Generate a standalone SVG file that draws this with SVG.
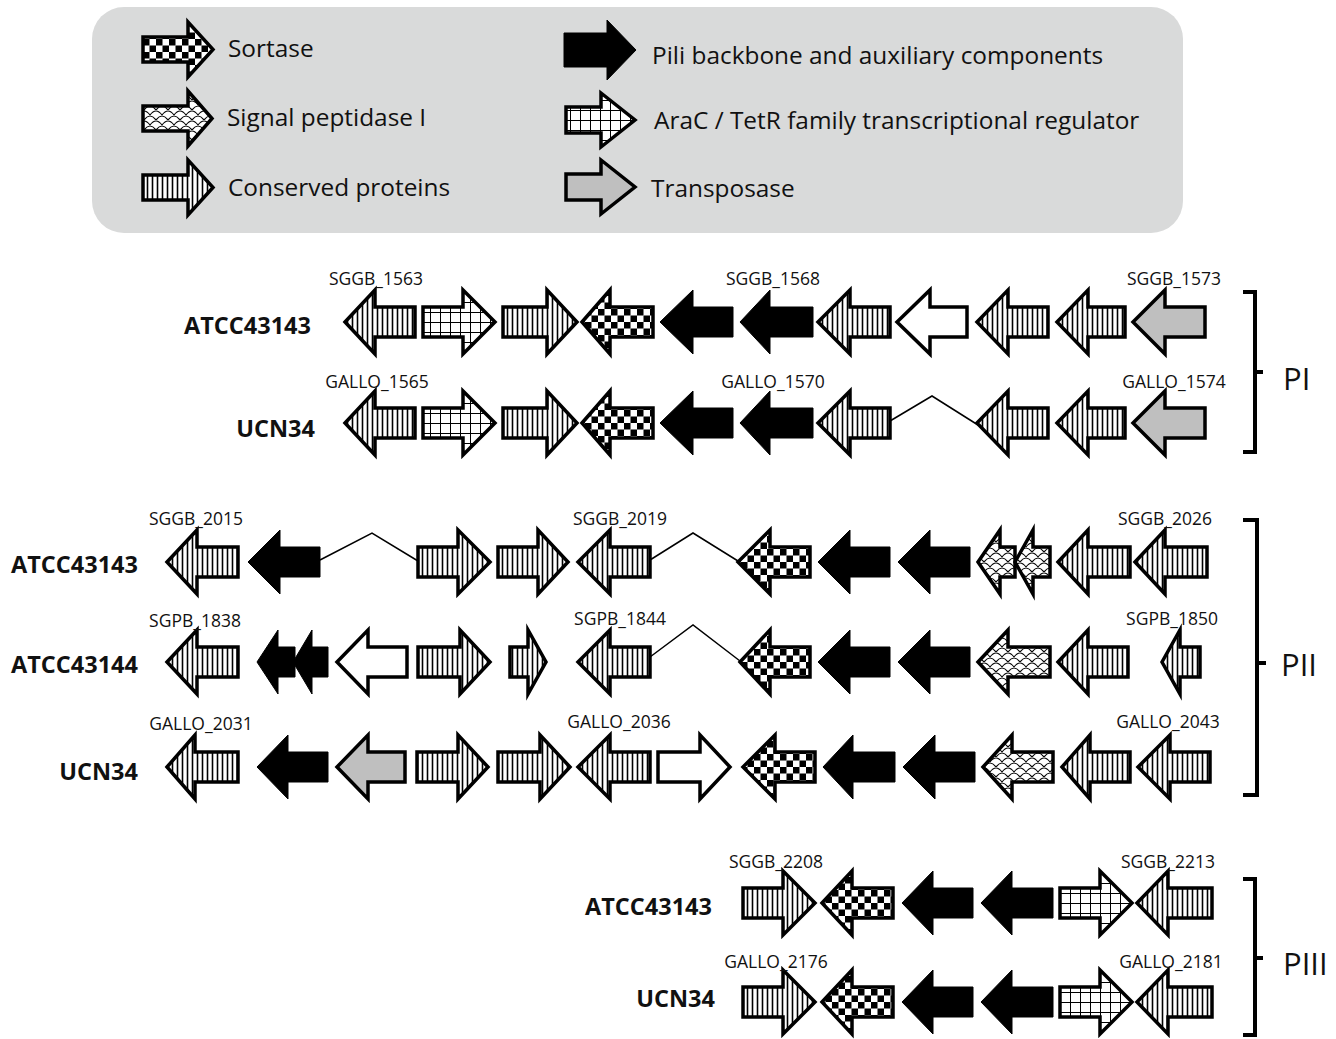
<svg xmlns="http://www.w3.org/2000/svg" width="1336" height="1039" viewBox="0 0 1336 1039">
<style>
.a{stroke:#000;stroke-width:3.5;stroke-linejoin:miter}
.st{fill:url(#stripes)}
.gr{fill:url(#grid)}
.ck{fill:url(#checker)}
.sp{fill:url(#sig)}
.bk{fill:#000;stroke-width:1}
.wh{fill:#fff}
.gy{fill:#bfbfbf}
.gene{font-family:"Open Sans","Liberation Sans",sans-serif;font-size:17.5px;fill:#111;text-anchor:middle}
.strain{font-family:"Open Sans","Liberation Sans",sans-serif;font-size:23.5px;font-weight:bold;fill:#111;text-anchor:end}
.sec{font-family:"Open Sans","Liberation Sans",sans-serif;font-size:31px;fill:#111}
.leg{font-family:"Open Sans","Liberation Sans",sans-serif;font-size:24.4px;fill:#111}
.ln{fill:none;stroke:#000;stroke-width:1.5}
.br{fill:none;stroke:#000;stroke-width:4}
</style>
<defs>
<pattern id="stripes" width="5" height="10" patternUnits="userSpaceOnUse"><rect width="5" height="10" fill="#fff"/><line x1="2.5" y1="0" x2="2.5" y2="10" stroke="#000" stroke-width="1.6"/></pattern>
<pattern id="grid" width="10" height="10" patternUnits="userSpaceOnUse"><rect width="10" height="10" fill="#fff"/><path d="M0,0 H10 M0,0 V10" stroke="#000" stroke-width="2" fill="none"/></pattern>
<pattern id="checker" width="13" height="13" patternUnits="userSpaceOnUse"><rect width="13" height="13" fill="#fff"/><rect width="6.5" height="6.5" fill="#000"/><rect x="6.5" y="6.5" width="6.5" height="6.5" fill="#000"/></pattern>
<pattern id="sig" width="12" height="10" patternUnits="userSpaceOnUse"><rect width="12" height="10" fill="#fff"/><path d="M0,10 Q6,2 12,10 M-6,5 Q0,-3 6,5 M6,5 Q12,-3 18,5" fill="none" stroke="#000" stroke-width="1.2"/></pattern>
</defs>
<rect width="1336" height="1039" fill="#fff"/>

<g id="legend">
<rect x="92" y="7" width="1091" height="226" rx="32" fill="#d9dada"/>
<g id="leg-sortase"><polygon class="a ck" points="143,37 188,37 188,22 213,49.5 188,77 188,62 143,62"/><text class="leg" x="228" y="57">Sortase</text></g>
<g id="leg-sigpep"><polygon class="a sp" points="143,106 188,106 188,91 212,118.5 188,146 188,131 143,131"/><text class="leg" x="227" y="126">Signal peptidase I</text></g>
<g id="leg-conserved"><polygon class="a st" points="143,175 188,175 188,160 213,187.5 188,215 188,200 143,200"/><text class="leg" x="228" y="196">Conserved proteins</text></g>
<g id="leg-pili"><polygon class="a bk" points="564,33 607,33 607,20 636,50 607,80 607,67 564,67"/><text class="leg" x="652" y="64">Pili backbone and auxiliary components</text></g>
<g id="leg-arac"><polygon class="a gr" points="566,107 601,107 601,93 635,120 601,147 601,133 566,133"/><text class="leg" x="654" y="129">AraC / TetR family transcriptional regulator</text></g>
<g id="leg-transposase"><polygon class="a gy" points="566,174 601,174 601,160 635,187 601,214 601,200 566,200"/><text class="leg" x="651" y="197">Transposase</text></g>
</g>

<g id="connectors">
<polyline class="ln" points="890,421 932,396 978,425"/>
<polyline class="ln" points="320,560 372,533 418,561"/>
<polyline class="ln" points="650,560 693,533 738,561"/>
<polyline class="ln" points="650,657 693,625 740,661"/>
</g>

<g id="brackets">
<path class="br" d="M1243,292 H1255 V452 H1243 M1255,372 H1263"/>
<path class="br" d="M1243,520 H1257 V795 H1243 M1257,663 H1266"/>
<path class="br" d="M1243,879 H1255 V1035 H1243 M1255,958 H1263"/>
<text class="sec" x="1283" y="390">PI</text>
<text class="sec" x="1281" y="676">PII</text>
<text class="sec" x="1283" y="975">PIII</text>
</g>

<g id="strains">
<text class="strain" x="311" y="334">ATCC43143</text>
<text class="strain" x="315" y="437">UCN34</text>
<text class="strain" x="138" y="573">ATCC43143</text>
<text class="strain" x="138" y="673">ATCC43144</text>
<text class="strain" x="138" y="780">UCN34</text>
<text class="strain" x="712" y="915">ATCC43143</text>
<text class="strain" x="715" y="1007">UCN34</text>
</g>

<!-- PI row 1 -->
<g transform="translate(0,322)">
<g id="pi1-1"><polygon class="a st" points="345,0 375,-32 375,-15 415,-15 415,15 375,15 375,32"/><text class="gene" x="376" y="-37">SGGB_1563</text></g>
<g id="pi1-2"><polygon class="a gr" points="423,-15 463,-15 463,-32 495,0 463,32 463,15 423,15"/></g>
<g id="pi1-3"><polygon class="a st" points="503,-15 547,-15 547,-32 577,0 547,32 547,15 503,15"/></g>
<g id="pi1-4"><polygon class="a ck" points="582,0 610,-32 610,-15 653,-15 653,15 610,15 610,32"/></g>
<g id="pi1-5"><polygon class="a bk" points="660,0 693,-32 693,-15 733,-15 733,15 693,15 693,32"/></g>
<g id="pi1-6"><polygon class="a bk" points="740,0 770,-32 770,-15 813,-15 813,15 770,15 770,32"/><text class="gene" x="773" y="-37">SGGB_1568</text></g>
<g id="pi1-7"><polygon class="a st" points="818,0 850,-32 850,-15 890,-15 890,15 850,15 850,32"/></g>
<g id="pi1-8"><polygon class="a wh" points="897,0 930,-32 930,-15 967,-15 967,15 930,15 930,32"/></g>
<g id="pi1-9"><polygon class="a st" points="977,0 1008,-32 1008,-15 1048,-15 1048,15 1008,15 1008,32"/></g>
<g id="pi1-10"><polygon class="a st" points="1057,0 1088,-32 1088,-15 1125,-15 1125,15 1088,15 1088,32"/></g>
<g id="pi1-11"><polygon class="a gy" points="1133,0 1165,-32 1165,-15 1205,-15 1205,15 1165,15 1165,32"/><text class="gene" x="1174" y="-37">SGGB_1573</text></g>
</g>

<!-- PI row 2 -->
<g transform="translate(0,423)">
<g id="pi2-1"><polygon class="a st" points="345,0 375,-32 375,-15 415,-15 415,15 375,15 375,32"/><text class="gene" x="377" y="-35">GALLO_1565</text></g>
<g id="pi2-2"><polygon class="a gr" points="423,-15 463,-15 463,-32 495,0 463,32 463,15 423,15"/></g>
<g id="pi2-3"><polygon class="a st" points="503,-15 547,-15 547,-32 577,0 547,32 547,15 503,15"/></g>
<g id="pi2-4"><polygon class="a ck" points="582,0 610,-32 610,-15 653,-15 653,15 610,15 610,32"/></g>
<g id="pi2-5"><polygon class="a bk" points="660,0 693,-32 693,-15 733,-15 733,15 693,15 693,32"/></g>
<g id="pi2-6"><polygon class="a bk" points="740,0 770,-32 770,-15 813,-15 813,15 770,15 770,32"/><text class="gene" x="773" y="-35">GALLO_1570</text></g>
<g id="pi2-7"><polygon class="a st" points="818,0 850,-32 850,-15 890,-15 890,15 850,15 850,32"/></g>
<g id="pi2-9"><polygon class="a st" points="977,0 1008,-32 1008,-15 1048,-15 1048,15 1008,15 1008,32"/></g>
<g id="pi2-10"><polygon class="a st" points="1057,0 1088,-32 1088,-15 1125,-15 1125,15 1088,15 1088,32"/></g>
<g id="pi2-11"><polygon class="a gy" points="1133,0 1165,-32 1165,-15 1205,-15 1205,15 1165,15 1165,32"/><text class="gene" x="1174" y="-35">GALLO_1574</text></g>
</g>

<!-- PII row 1 -->
<g transform="translate(0,562)">
<g id="pii1-1"><polygon class="a st" points="167,0 197,-32 197,-15 238,-15 238,15 197,15 197,32"/><text class="gene" x="196" y="-37">SGGB_2015</text></g>
<g id="pii1-2"><polygon class="a bk" points="248,0 280,-32 280,-15 320,-15 320,15 280,15 280,32"/></g>
<g id="pii1-3"><polygon class="a st" points="418,-15 458,-15 458,-32 490,0 458,32 458,15 418,15"/></g>
<g id="pii1-4"><polygon class="a st" points="498,-15 538,-15 538,-32 568,0 538,32 538,15 498,15"/></g>
<g id="pii1-5"><polygon class="a st" points="578,0 610,-32 610,-15 650,-15 650,15 610,15 610,32"/><text class="gene" x="620" y="-37">SGGB_2019</text></g>
<g id="pii1-6"><polygon class="a ck" points="738,0 770,-32 770,-15 810,-15 810,15 770,15 770,32"/></g>
<g id="pii1-7"><polygon class="a bk" points="818,0 850,-32 850,-15 890,-15 890,15 850,15 850,32"/></g>
<g id="pii1-8"><polygon class="a bk" points="898,0 930,-32 930,-15 970,-15 970,15 930,15 930,32"/></g>
<g id="pii1-9"><polygon class="a sp" points="978,0 1000,-32 1000,-15 1015,-15 1015,15 1000,15 1000,32"/></g>
<g id="pii1-10"><polygon class="a sp" points="1015,0 1033,-32 1033,-15 1050,-15 1050,15 1033,15 1033,32"/></g>
<g id="pii1-11"><polygon class="a st" points="1058,0 1088,-32 1088,-15 1130,-15 1130,15 1088,15 1088,32"/></g>
<g id="pii1-12"><polygon class="a st" points="1135,0 1165,-32 1165,-15 1207,-15 1207,15 1165,15 1165,32"/><text class="gene" x="1165" y="-37">SGGB_2026</text></g>
</g>

<!-- PII row 2 -->
<g transform="translate(0,662)">
<g id="pii2-1"><polygon class="a st" points="167,0 197,-32 197,-15 238,-15 238,15 197,15 197,32"/><text class="gene" x="195" y="-35">SGPB_1838</text></g>
<g id="pii2-2"><polygon class="a bk" points="257,0 278,-32 278,-15 295,-15 295,15 278,15 278,32"/></g>
<g id="pii2-3"><polygon class="a bk" points="293,0 312,-32 312,-15 328,-15 328,15 312,15 312,32"/></g>
<g id="pii2-4"><polygon class="a wh" points="337,0 368,-32 368,-15 407,-15 407,15 368,15 368,32"/></g>
<g id="pii2-5"><polygon class="a st" points="418,-15 460,-15 460,-32 490,0 460,32 460,15 418,15"/></g>
<g id="pii2-6"><polygon class="a st" points="510,-15 528,-15 528,-32 546,0 528,32 528,15 510,15"/></g>
<g id="pii2-7"><polygon class="a st" points="578,0 610,-32 610,-15 650,-15 650,15 610,15 610,32"/><text class="gene" x="620" y="-37">SGPB_1844</text></g>
<g id="pii2-8"><polygon class="a ck" points="740,0 770,-32 770,-15 810,-15 810,15 770,15 770,32"/></g>
<g id="pii2-9"><polygon class="a bk" points="818,0 850,-32 850,-15 890,-15 890,15 850,15 850,32"/></g>
<g id="pii2-10"><polygon class="a bk" points="898,0 930,-32 930,-15 970,-15 970,15 930,15 930,32"/></g>
<g id="pii2-11"><polygon class="a sp" points="978,0 1008,-32 1008,-15 1050,-15 1050,15 1008,15 1008,32"/></g>
<g id="pii2-12"><polygon class="a st" points="1058,0 1088,-32 1088,-15 1128,-15 1128,15 1088,15 1088,32"/></g>
<g id="pii2-13"><polygon class="a st" points="1162,0 1180,-32 1180,-15 1200,-15 1200,15 1180,15 1180,32"/><text class="gene" x="1172" y="-37">SGPB_1850</text></g>
</g>

<!-- PII row 3 -->
<g transform="translate(0,767)">
<g id="pii3-1"><polygon class="a st" points="167,0 195,-32 195,-15 238,-15 238,15 195,15 195,32"/><text class="gene" x="201" y="-37">GALLO_2031</text></g>
<g id="pii3-2"><polygon class="a bk" points="257,0 288,-32 288,-15 328,-15 328,15 288,15 288,32"/></g>
<g id="pii3-3"><polygon class="a gy" points="337,0 368,-32 368,-15 405,-15 405,15 368,15 368,32"/></g>
<g id="pii3-4"><polygon class="a st" points="417,-15 458,-15 458,-32 488,0 458,32 458,15 417,15"/></g>
<g id="pii3-5"><polygon class="a st" points="498,-15 540,-15 540,-32 570,0 540,32 540,15 498,15"/></g>
<g id="pii3-6"><polygon class="a st" points="578,0 610,-32 610,-15 650,-15 650,15 610,15 610,32"/><text class="gene" x="619" y="-39">GALLO_2036</text></g>
<g id="pii3-7"><polygon class="a wh" points="658,-15 700,-15 700,-32 730,0 700,32 700,15 658,15"/></g>
<g id="pii3-8"><polygon class="a ck" points="743,0 775,-32 775,-15 815,-15 815,15 775,15 775,32"/></g>
<g id="pii3-9"><polygon class="a bk" points="823,0 853,-32 853,-15 895,-15 895,15 853,15 853,32"/></g>
<g id="pii3-10"><polygon class="a bk" points="903,0 935,-32 935,-15 975,-15 975,15 935,15 935,32"/></g>
<g id="pii3-11"><polygon class="a sp" points="983,0 1012,-32 1012,-15 1053,-15 1053,15 1012,15 1012,32"/></g>
<g id="pii3-12"><polygon class="a st" points="1062,0 1090,-32 1090,-15 1130,-15 1130,15 1090,15 1090,32"/></g>
<g id="pii3-13"><polygon class="a st" points="1138,0 1170,-32 1170,-15 1210,-15 1210,15 1170,15 1170,32"/><text class="gene" x="1168" y="-39">GALLO_2043</text></g>
</g>

<!-- PIII row 1 -->
<g transform="translate(0,903)">
<g id="piii1-1"><polygon class="a st" points="743,-15 783,-15 783,-32 815,0 783,32 783,15 743,15"/><text class="gene" x="776" y="-35">SGGB_2208</text></g>
<g id="piii1-2"><polygon class="a ck" points="822,0 852,-32 852,-15 893,-15 893,15 852,15 852,32"/></g>
<g id="piii1-3"><polygon class="a bk" points="902,0 933,-32 933,-15 973,-15 973,15 933,15 933,32"/></g>
<g id="piii1-4"><polygon class="a bk" points="981,0 1012,-32 1012,-15 1053,-15 1053,15 1012,15 1012,32"/></g>
<g id="piii1-5"><polygon class="a gr" points="1060,-15 1100,-15 1100,-32 1132,0 1100,32 1100,15 1060,15"/></g>
<g id="piii1-6"><polygon class="a st" points="1137,0 1168,-32 1168,-15 1212,-15 1212,15 1168,15 1168,32"/><text class="gene" x="1168" y="-35">SGGB_2213</text></g>
</g>

<!-- PIII row 2 -->
<g transform="translate(0,1002)">
<g id="piii2-1"><polygon class="a st" points="743,-15 783,-15 783,-32 815,0 783,32 783,15 743,15"/><text class="gene" x="776" y="-34">GALLO_2176</text></g>
<g id="piii2-2"><polygon class="a ck" points="822,0 852,-32 852,-15 893,-15 893,15 852,15 852,32"/></g>
<g id="piii2-3"><polygon class="a bk" points="902,0 933,-32 933,-15 973,-15 973,15 933,15 933,32"/></g>
<g id="piii2-4"><polygon class="a bk" points="981,0 1012,-32 1012,-15 1053,-15 1053,15 1012,15 1012,32"/></g>
<g id="piii2-5"><polygon class="a gr" points="1060,-15 1100,-15 1100,-32 1132,0 1100,32 1100,15 1060,15"/></g>
<g id="piii2-6"><polygon class="a st" points="1137,0 1168,-32 1168,-15 1212,-15 1212,15 1168,15 1168,32"/><text class="gene" x="1171" y="-34">GALLO_2181</text></g>
</g>
</svg>
